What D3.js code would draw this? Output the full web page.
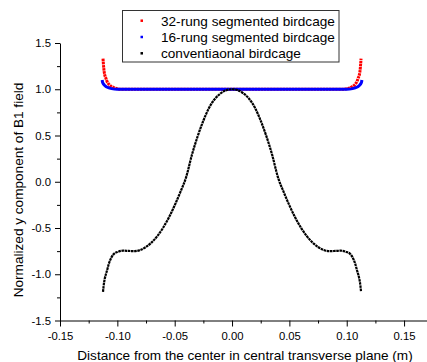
<!DOCTYPE html>
<html>
<head>
<meta charset="utf-8">
<script src="https://cdn.jsdelivr.net/npm/d3@7"></script>
<style>
  body { margin: 0; background: #fff; }
  svg text { font-family: "Liberation Sans", Arial, Helvetica, sans-serif; fill: #000; }
</style>
</head>
<body>
<script>
// black: conventional birdcage
var xBlack = [-0.1125, -0.112, -0.111, -0.110, -0.109, -0.1075, -0.105, -0.1025, -0.100, -0.095, -0.090, -0.085, -0.080, -0.075, -0.070, -0.065, -0.060, -0.055, -0.050, -0.045, -0.040, -0.035, -0.030, -0.025, -0.020, -0.015, -0.010, -0.005, 0.000,
  0.005, 0.010, 0.015, 0.020, 0.025, 0.030, 0.035, 0.040, 0.045, 0.050, 0.055, 0.060, 0.065, 0.070, 0.075, 0.080, 0.085, 0.090, 0.095, 0.100, 0.1025, 0.105, 0.1075, 0.109, 0.110, 0.111, 0.112, 0.1125];
var yBlack = [-1.19, -1.13, -1.05, -1.00, -0.96, -0.89, -0.815, -0.775, -0.760, -0.745, -0.748, -0.750, -0.738, -0.705, -0.655, -0.585, -0.495, -0.385, -0.255, -0.11, 0.05, 0.29, 0.49, 0.66, 0.80, 0.895, 0.955, 0.99, 1.0,
  0.99, 0.955, 0.895, 0.80, 0.66, 0.49, 0.29, 0.05, -0.11, -0.255, -0.385, -0.495, -0.585, -0.655, -0.705, -0.738, -0.750, -0.748, -0.745, -0.760, -0.775, -0.815, -0.89, -0.96, -1.00, -1.05, -1.13, -1.19];

// red: 32-rung segmented birdcage
var xRed = [-0.1125, -0.112, -0.1115, -0.111, -0.110, -0.109, -0.1075, -0.105, -0.1025, -0.100, -0.095, -0.05, 0, 0.05, 0.095, 0.100, 0.1025, 0.105, 0.1075, 0.109, 0.110, 0.111, 0.1115, 0.112, 0.1125];
var yRed = [1.33, 1.25, 1.19, 1.155, 1.12, 1.085, 1.055, 1.03, 1.015, 1.005, 1.0, 1.0, 1.0, 1.0, 1.0, 1.005, 1.015, 1.03, 1.055, 1.085, 1.12, 1.155, 1.19, 1.25, 1.33];

// blue: 16-rung segmented birdcage
var xBlue = [-0.1132, -0.113, -0.112, -0.111, -0.110, -0.108, -0.105, -0.100, -0.05, 0, 0.05, 0.100, 0.105, 0.108, 0.110, 0.111, 0.112, 0.113, 0.1132];
var yBlue = [1.10, 1.08, 1.055, 1.04, 1.03, 1.018, 1.007, 1.0, 1.0, 1.0, 1.0, 1.0, 1.007, 1.018, 1.03, 1.04, 1.055, 1.08, 1.10];

var xTicks = [-0.15, -0.10, -0.05, 0.00, 0.05, 0.10, 0.15];
var xTickLabels = ["-0.15", "-0.10", "-0.05", "0.00", "0.05", "0.10", "0.15"];
var xMinor = [-0.125, -0.075, -0.025, 0.025, 0.075, 0.125];
var yTicks = [-1.5, -1.0, -0.5, 0.0, 0.5, 1.0, 1.5];
var yTickLabels = ["-1.5", "-1.0", "-0.5", "0.0", "0.5", "1.0", "1.5"];
var yMinor = [-1.25, -0.75, -0.25, 0.25, 0.75, 1.25];

var legendNames = ["32-rung segmented birdcage", "16-rung segmented birdcage", "conventiaonal birdcage"];
var legendColors = ["#ff0000", "#0000ff", "#000000"];

var width = 427, height = 362;

var svg = d3.select("body").append("svg")
  .attr("width", width)
  .attr("height", height);

var x = d3.scaleLinear().domain([-0.15, 0.17]).range([60, 427]);
var y = d3.scaleLinear().domain([-1.5, 1.5]).range([320.5, 43]);

function pairs(xs, ys) {
  return xs.map(function (d, i) { return [d, ys[i]]; });
}

var line = d3.line()
  .x(function (d) { return x(d[0]); })
  .y(function (d) { return y(d[1]); })
  .curve(d3.curveMonotoneX);

// series
svg.append("path")
  .datum(pairs(xRed, yRed))
  .attr("d", line)
  .attr("fill", "none")
  .attr("stroke", "#ff0000")
  .attr("stroke-width", 3)
  .attr("stroke-dasharray", "2.5,0.6");

svg.append("path")
  .datum(pairs(xBlue, yBlue))
  .attr("d", line)
  .attr("fill", "none")
  .attr("stroke", "#0000ff")
  .attr("stroke-width", 3);

svg.append("path")
  .datum(pairs(xBlack, yBlack))
  .attr("d", line)
  .attr("fill", "none")
  .attr("stroke", "#000")
  .attr("stroke-width", 2.2)
  .attr("stroke-dasharray", "2.6,0.6");

// x axis
svg.append("g")
  .attr("transform", "translate(0,320.5)")
  .call(d3.axisBottom(x)
    .tickValues(xTicks)
    .tickFormat(function (d, i) { return xTickLabels[i]; })
    .tickSize(6)
    .tickSizeOuter(0)
    .tickPadding(5));
svg.append("g")
  .attr("transform", "translate(0,320.5)")
  .call(d3.axisBottom(x).tickValues(xMinor).tickFormat("").tickSize(3).tickSizeOuter(0))
  .select(".domain").remove();

// y axis
svg.append("g")
  .attr("transform", "translate(60,0)")
  .call(d3.axisLeft(y)
    .tickValues(yTicks)
    .tickFormat(function (d, i) { return yTickLabels[i]; })
    .tickSize(5)
    .tickSizeOuter(0)
    .tickPadding(4));
svg.append("g")
  .attr("transform", "translate(60,0)")
  .call(d3.axisLeft(y).tickValues(yMinor).tickFormat("").tickSize(3).tickSizeOuter(0))
  .select(".domain").remove();

svg.selectAll(".tick text")
  .style("font-size", "11.3px")
  .style("font-family", "'Liberation Sans', Arial, sans-serif");
svg.selectAll(".domain, .tick line").attr("stroke", "#000");

// axis titles
svg.append("text")
  .attr("x", 245)
  .attr("y", 359.5)
  .attr("text-anchor", "middle")
  .style("font-size", "13.6px")
  .text("Distance from the center in central transverse plane (m)");

svg.append("text")
  .attr("transform", "translate(23,190) rotate(-90)")
  .attr("text-anchor", "middle")
  .style("font-size", "13.6px")
  .text("Normalized y component of B1 field");

// legend
var legend = svg.append("g");
legend.append("rect")
  .attr("x", 122.5)
  .attr("y", 10.5)
  .attr("width", 216.5)
  .attr("height", 51.5)
  .attr("fill", "#fff")
  .attr("stroke", "#333")
  .attr("stroke-width", 1);

var rows = legend.selectAll("g.row")
  .data(legendNames)
  .enter().append("g")
  .attr("class", "row")
  .attr("transform", function (d, i) { return "translate(0," + (20.7 + i * 16.3) + ")"; });

rows.append("rect")
  .attr("x", 140.5)
  .attr("y", -1.25)
  .attr("width", 2.5)
  .attr("height", 2.5)
  .attr("fill", function (d, i) { return legendColors[i]; });

rows.append("text")
  .attr("x", 161)
  .attr("y", 5)
  .style("font-size", "13.6px")
  .text(function (d) { return d; });
</script>
</body>
</html>
